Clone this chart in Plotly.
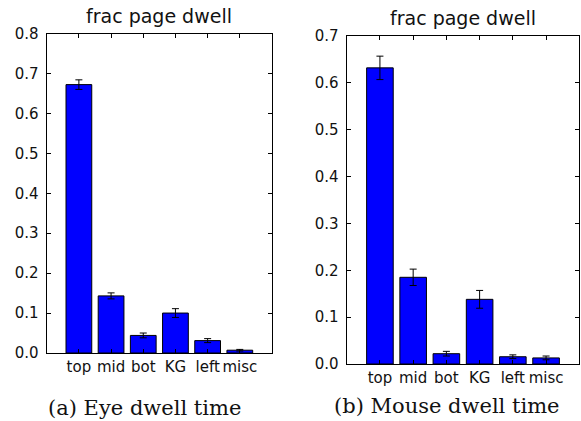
import plotly.graph_objects as go

categories = ["top", "mid", "bot", "KG", "left", "misc"]
eye_values = [0.672, 0.143, 0.044, 0.100, 0.031, 0.007]
eye_errors = [0.012, 0.0075, 0.006, 0.011, 0.005, 0.002]
mouse_values = [0.632, 0.185, 0.022, 0.138, 0.0155, 0.013]
mouse_errors = [0.025, 0.0175, 0.005, 0.019, 0.004, 0.004]
eye_yticks = [0.0, 0.1, 0.2, 0.3, 0.4, 0.5, 0.6, 0.7, 0.8]
mouse_yticks = [0.0, 0.1, 0.2, 0.3, 0.4, 0.5, 0.6, 0.7]
panel_title = "frac page dwell"
captions = ["(a) Eye dwell time", "(b) Mouse dwell time"]

W, H = 581, 421
xpos = list(range(len(categories)))

fig = go.Figure()

def add_bars(vals, errs, xa, ya):
    fig.add_trace(go.Bar(
        x=xpos, y=vals, xaxis=xa, yaxis=ya, width=0.8,
        marker=dict(color="#0000ff", line=dict(color="black", width=1)),
        error_y=dict(type="data", array=errs, visible=True, color="black",
                     thickness=1, width=3.5),
        showlegend=False,
    ))

add_bars(eye_values, eye_errors, "x", "y")
add_bars(mouse_values, mouse_errors, "x2", "y2")

tickfont = dict(family="DejaVu Sans", size=15, color="#111111")

def xaxis(domain, anchor):
    return dict(domain=domain, anchor=anchor, range=[-1, 6], automargin=False,
                tickmode="array", tickvals=xpos, ticktext=categories,
                ticks="inside", ticklen=4, tickcolor="black",
                showline=True, linecolor="black", linewidth=1.3, mirror="ticks",
                showgrid=False, zeroline=False, tickfont=tickfont,
                ticklabelstandoff=0)

def yaxis(domain, anchor, ticks, top):
    return dict(domain=domain, anchor=anchor, range=[0, top], automargin=False,
                tickmode="array", tickvals=ticks,
                ticktext=["%.1f" % t for t in ticks],
                ticks="inside", ticklen=4, tickcolor="black",
                showline=True, linecolor="black", linewidth=1.3, mirror="ticks",
                showgrid=False, zeroline=False, tickfont=tickfont,
                ticklabelstandoff=4)

fig.update_layout(
    width=W, height=H,
    margin=dict(l=0, r=0, t=0, b=0, autoexpand=False),
    paper_bgcolor="white", plot_bgcolor="white",
    xaxis=xaxis([46.7 / W, 272 / W], "y"),
    yaxis=yaxis([1 - 353 / H, 1 - 33.5 / H], "x", eye_yticks, 0.8),
    xaxis2=xaxis([346.7 / W, 579.3 / W], "y2"),
    yaxis2=yaxis([1 - 364 / H, 1 - 36 / H], "x2", mouse_yticks, 0.7),
)

titlefont = dict(family="DejaVu Sans", size=19, color="#111111")
fig.add_annotation(text=panel_title, x=159.3 / W, y=1 - 16 / H, xref="paper", yref="paper",
                   showarrow=False, font=titlefont, xanchor="center", yanchor="middle")
fig.add_annotation(text=panel_title, x=463 / W, y=1 - 18 / H, xref="paper", yref="paper",
                   showarrow=False, font=titlefont, xanchor="center", yanchor="middle")

capfont = dict(family="DejaVu Serif", size=21, color="#111111")
fig.add_annotation(text=captions[0], x=144 / W, y=1 - 408 / H, xref="paper", yref="paper",
                   showarrow=False, font=capfont, xanchor="center", yanchor="middle")
fig.add_annotation(text=captions[1], x=446.5 / W, y=1 - 406 / H, xref="paper", yref="paper",
                   showarrow=False, font=capfont, xanchor="center", yanchor="middle")

fig.write_html("out.html")
